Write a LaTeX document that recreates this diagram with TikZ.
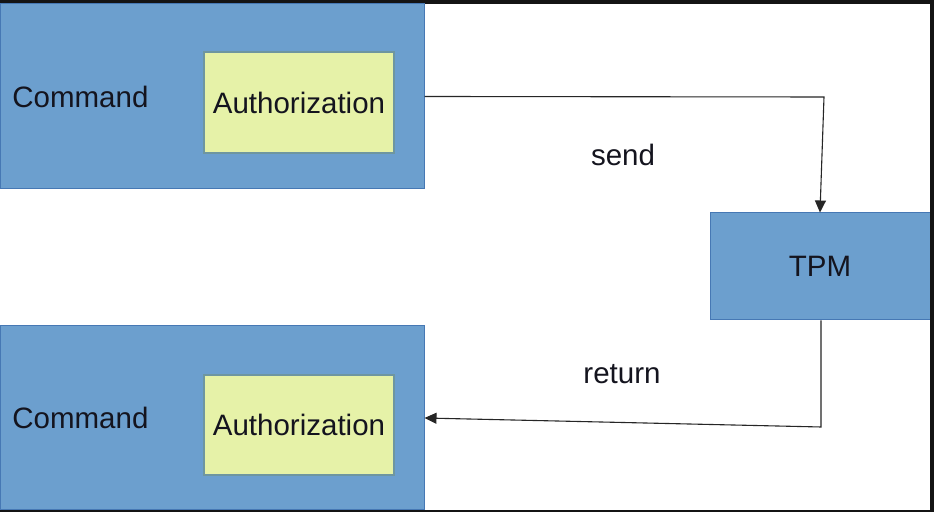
\documentclass[tikz,border=0pt]{standalone}
\usepackage{fontspec}
\setmainfont{Liberation Sans}
\usetikzlibrary{arrows.meta, positioning}
\definecolor{boxblue}{RGB}{108,159,206}
\definecolor{boxedge}{RGB}{70,120,180}
\definecolor{authfill}{RGB}{230,242,168}
\definecolor{authedge}{RGB}{110,150,160}
\definecolor{framedark}{RGB}{20,20,20}
\definecolor{inktext}{RGB}{20,20,30}
\tikzset{
    cmdbox/.style={draw=boxedge, fill=boxblue, line width=0.5pt, rectangle, inner sep=0pt},
    authbox/.style={draw=authedge, fill=authfill, line width=0.6pt, rectangle, inner sep=0pt,
        font=\fontsize{14.75}{17}\selectfont, text=inktext},
    lbl/.style={inner sep=0pt, font=\fontsize{14.75}{17}\selectfont, text=inktext},
    link/.style={draw=black!85, line width=0.55pt, -{Triangle[length=6pt,width=5.5pt]}}
}
\begin{document}
\begin{tikzpicture}[x=0.5pt, y=-0.5pt]
    \useasboundingbox (0,0) rectangle (934,512);
    % screen frame
    \fill[framedark] (0,0) rectangle (934,512);
    \fill[white] (0,4) rectangle (930,510.5);
    % boxes
    \node[cmdbox, minimum width=212pt, minimum height=92.5pt] (cmdtop) at (212,96.5) {};
    \node[authbox, minimum width=95pt, minimum height=50.5pt] (authtop) at (299,102.5) {Authorization};
    \node[lbl, anchor=west] (cmdtoptext) at (12,97) {Command};
    \node[cmdbox, minimum width=212pt, minimum height=92pt] (cmdbot) at (212,418) {};
    \node[authbox, minimum width=95pt, minimum height=50pt] (authbot) at (299,425) {Authorization};
    \node[lbl, anchor=west] (cmdbottext) at (12,418) {Command};
    \node[cmdbox, minimum width=110pt, minimum height=53.5pt, font=\fontsize{14.75}{17}\selectfont, text=inktext] (tpm) at (820,266.5) {TPM};
    \fill[framedark] (930,0) rectangle (934,512);
    % connectors
    \coordinate (sendcorner) at (824,97);
    \coordinate (retcorner) at (821,427);
    \draw[link] (cmdtop.east) -- (sendcorner) -- (tpm.north);
    \draw[link] (tpm.south -| retcorner) -- (retcorner) -- (cmdbot.east);
    \node[lbl] (sendlbl) at (623,155) {send};
    \node[lbl] (retlbl) at (622,374) {return};
\end{tikzpicture}
\end{document}
